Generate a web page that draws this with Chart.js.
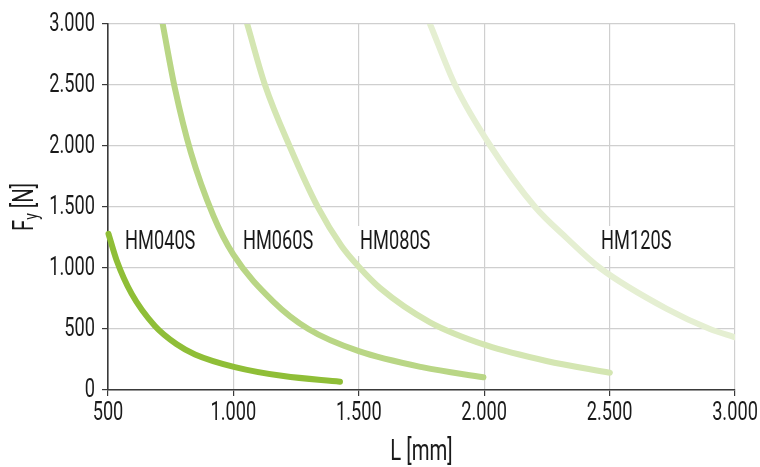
<!DOCTYPE html>
<html>
<head>
<meta charset="utf-8">
<title>Fy vs L</title>
<script src="https://cdn.jsdelivr.net/npm/chart.js@4"></script>
<style>
  html, body { margin: 0; padding: 0; background: #fff; }
  #wrap { width: 760px; height: 467px; }
</style>
</head>
<body>
<div id="wrap"><canvas id="fyChart"></canvas></div>
<script>
// ── Data ──────────────────────────────────────────────────────────────────

const X_TICKS = [500, 1000, 1500, 2000, 2500, 3000];
const Y_TICKS = [0, 500, 1000, 1500, 2000, 2500, 3000];

const SERIES_NAMES = ['HM040S', 'HM060S', 'HM080S', 'HM120S'];

const HM040S_L = [502, 535, 594, 687, 774, 847, 1006, 1200, 1425];
const HM040S_F = [1280, 1060, 790, 525, 375, 292, 188, 114, 68];

const HM060S_L = [718, 767, 830, 920, 1000, 1159, 1299, 1500, 1757, 1997];
const HM060S_F = [3000, 2470, 1950, 1430, 1110, 725, 500, 318, 185, 104];

const HM080S_L = [1055, 1126, 1226, 1339, 1431, 1500, 1585, 1784, 2010, 2248, 2501];
const HM080S_F = [3000, 2500, 1990, 1490, 1180, 1010, 835, 555, 365, 238, 142];

const HM120S_L = [1784, 1884, 2025, 2203, 2329, 2462, 2728, 2900, 3000];
const HM120S_F = [3000, 2500, 2000, 1500, 1245, 1000, 665, 500, 432];

// where each series name starts, in chart units
const LABEL_L = [568, 1038, 1505, 2466];
const LABEL_F = 1205;

// ── Styling ───────────────────────────────────────────────────────────────

const FONT    = "Roboto, 'DejaVu Sans Condensed', sans-serif";
const WEIGHT  = 400;
const INK     = '#1a1a1a';
const GRID    = '#cfcfcf';
const AXIS    = '#3a3a3a';
const SQUEEZE = 0.7;
const COLORS  = ['#8fbe37', '#b9d685', '#d4e6b2', '#e5efd2'];

const fmt = v => v >= 1000
  ? Math.floor(v / 1000) + '.' + String(v % 1000).padStart(3, '0')
  : String(v);

const toPoints = (ls, fs) => ls.map((l, i) => ({ x: l, y: fs[i] }));

const curves = [
  toPoints(HM040S_L, HM040S_F),
  toPoints(HM060S_L, HM060S_F),
  toPoints(HM080S_L, HM080S_F),
  toPoints(HM120S_L, HM120S_F),
];

const font = px => `${WEIGHT} ${px}px ${FONT}`;

// draw text horizontally condensed (the original uses a narrow DIN face)
function squeezedText(ctx, text, x, y, align) {
  const w = ctx.measureText(text).width * SQUEEZE;
  let x0 = x;
  if (align === 'center') x0 = x - w / 2;
  if (align === 'right')  x0 = x - w;
  ctx.save();
  ctx.translate(x0, y);
  ctx.scale(SQUEEZE, 1);
  ctx.textAlign = 'left';
  ctx.fillText(text, 0, 0);
  ctx.restore();
  return w;
}

// ── Plugins ───────────────────────────────────────────────────────────────

const seriesLabels = {
  id: 'seriesLabels',
  beforeDatasetsDraw(chart) {
    const { ctx, scales: { x, y } } = chart;
    ctx.save();
    ctx.font = font(26);
    ctx.textBaseline = 'middle';
    SERIES_NAMES.forEach((name, i) => {
      const px = x.getPixelForValue(LABEL_L[i]);
      const py = y.getPixelForValue(LABEL_F);
      const w  = ctx.measureText(name).width * SQUEEZE;
      ctx.fillStyle = '#fff';
      ctx.fillRect(px - 6, py - 17, w + 12, 30);
      ctx.fillStyle = INK;
      squeezedText(ctx, name, px, py, 'left');
    });
    ctx.restore();
  },
};

const axisText = {
  id: 'axisText',
  afterDraw(chart) {
    const { ctx, chartArea: area, scales: { x, y } } = chart;
    ctx.save();
    ctx.fillStyle = INK;

    // tick labels
    ctx.font = font(26);
    ctx.textBaseline = 'middle';
    x.ticks.forEach(t => squeezedText(ctx, fmt(t.value), x.getPixelForValue(t.value), 413, 'center'));
    y.ticks.forEach(t => squeezedText(ctx, fmt(t.value), area.left - 13, y.getPixelForValue(t.value), 'right'));

    // x title
    ctx.font = font(29);
    ctx.textBaseline = 'alphabetic';
    squeezedText(ctx, 'L [mm]', (area.left + area.right) / 2, 460, 'center');

    // y title: F with subscript y
    ctx.translate(33, (area.top + area.bottom) / 2);
    ctx.rotate(-Math.PI / 2);
    ctx.font = font(29);
    const wF = ctx.measureText('F').width * SQUEEZE;
    const wN = ctx.measureText(' [N]').width * SQUEEZE;
    ctx.font = font(20);
    const wy = ctx.measureText('y').width * SQUEEZE;
    let cx = -(wF + wy + wN) / 2;
    ctx.font = font(29);
    cx += squeezedText(ctx, 'F', cx, 0, 'left');
    ctx.font = font(20);
    cx += squeezedText(ctx, 'y', cx, 5, 'left');
    ctx.font = font(29);
    squeezedText(ctx, ' [N]', cx, 0, 'left');

    ctx.restore();
  },
};

// ── Chart ─────────────────────────────────────────────────────────────────

new Chart(document.getElementById('fyChart'), {
  type: 'line',
  data: {
    datasets: curves.map((pts, i) => ({
      label: SERIES_NAMES[i],
      data: pts,
      borderColor: COLORS[i],
      borderWidth: 6,
      borderCapStyle: 'round',
      borderJoinStyle: 'round',
      cubicInterpolationMode: 'monotone',
      pointRadius: 0,
      fill: false,
      clip: { left: 6, top: 0, right: 0, bottom: 6 },
      order: i,
    })),
  },
  options: {
    responsive: true,
    maintainAspectRatio: false,
    animation: false,
    events: [],
    layout: { padding: { top: 24, right: 25, left: 0, bottom: 0 } },
    plugins: {
      legend: { display: false },
      tooltip: { enabled: false },
    },
    scales: {
      x: {
        type: 'linear',
        min: 500,
        max: 3000,
        afterBuildTicks: s => { s.ticks = X_TICKS.map(v => ({ value: v })); },
        afterFit: s => { s.height = 77; },
        ticks: { display: false },
        grid: { color: GRID, lineWidth: 1.2, tickColor: AXIS, tickLength: 6 },
        border: { color: AXIS, width: 1.6 },
      },
      y: {
        type: 'linear',
        min: 0,
        max: 3000,
        afterBuildTicks: s => { s.ticks = Y_TICKS.map(v => ({ value: v })); },
        afterFit: s => { s.width = 108; },
        ticks: { display: false },
        grid: { color: GRID, lineWidth: 1.2, tickColor: AXIS, tickLength: 6 },
        border: { color: AXIS, width: 1.6 },
      },
    },
  },
  plugins: [seriesLabels, axisText],
});
</script>
</body>
</html>
